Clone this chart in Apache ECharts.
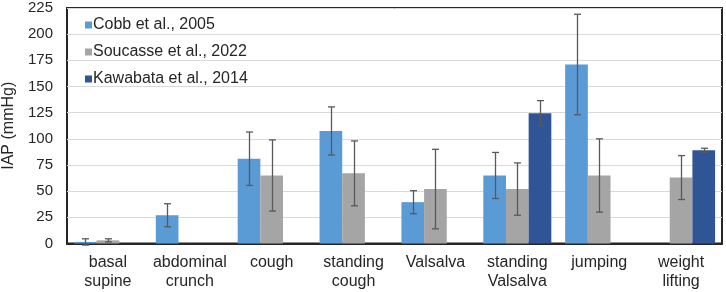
<!DOCTYPE html>
<html><head><meta charset="utf-8">
<script src="https://cdn.jsdelivr.net/npm/echarts@6/dist/echarts.min.js"></script>
<style>html,body{margin:0;padding:0;background:#fff}#c{width:726px;height:292px}</style>
</head><body><div id="c"></div>
<script>
const categories = ['basal\nsupine','abdominal\ncrunch','cough','standing\ncough','Valsalva','standing\nValsalva','jumping','weight\nlifting'];
const seriesNames = ['Cobb et al., 2005','Soucasse et al., 2022','Kawabata et al., 2014'];
const cobb = [1.5, 27, 81, 107.5, 39.5, 65, 171, null];
const cobbErr = [3, 11, 25.5, 23, 11, 22, 48, null];
const soucasse = [3, null, 65, 67, 52, 52, 65, 63];
const soucasseErr = [1.5, null, 34, 31, 38, 25, 35, 21];
const kawabata = [null, null, null, null, null, 124.5, null, 89];
const kawabataErr = [null, null, null, null, null, 12, null, 2];
const yTicks = {min: 0, max: 225, interval: 25};

const colors = ['#5B9BD5', '#A5A5A5', '#2F5597'];
const values = [cobb, soucasse, kawabata];
const errs = [cobbErr, soucasseErr, kawabataErr];
const BAR_FRAC = 0.277;
const font = 'Liberation Sans, Arial, sans-serif';

function errSeries(idx) {
  const data = [];
  values[idx].forEach((v, i) => {
    if (v != null && errs[idx][i] != null) data.push([i, v - errs[idx][i], v + errs[idx][i]]);
  });
  return {
    type: 'custom', z: 10, silent: true,
    data: data,
    encode: {x: 0, y: [1, 2]},
    renderItem: function (params, api) {
      const band = api.size([1, 0])[0];
      const bw = band * BAR_FRAC;
      const off = (idx - 1) * bw;
      const lo = api.coord([api.value(0), api.value(1)]);
      const hi = api.coord([api.value(0), api.value(2)]);
      const x = Math.round(lo[0] + off) + 0.5;
      const cap = 3.5;
      const style = {stroke: '#595959', lineWidth: 1.3, fill: null};
      return {type: 'group', children: [
        {type: 'line', shape: {x1: x, y1: lo[1], x2: x, y2: hi[1]}, style: style},
        {type: 'line', shape: {x1: x - cap, y1: lo[1], x2: x + cap, y2: lo[1]}, style: style},
        {type: 'line', shape: {x1: x - cap, y1: hi[1], x2: x + cap, y2: hi[1]}, style: style}
      ]};
    }
  };
}

const barSeries = values.map((arr, idx) => ({
  name: seriesNames[idx], type: 'bar',
  data: arr.map(v => v == null ? '-' : v),
  barWidth: (BAR_FRAC * 100) + '%', barGap: '0%',
  itemStyle: {color: colors[idx]},
  z: 2
}));

const chart = echarts.init(document.getElementById('c'), null, {renderer: 'canvas'});
chart.setOption({
  animation: false,
  textStyle: {fontFamily: font},
  color: colors,
  grid: {left: 67, right: 4, top: 8, bottom: 48.5, containLabel: false, outerBoundsMode: 'none',
         show: true, borderColor: '#262626', borderWidth: 2, backgroundColor: 'transparent'},
  legend: {
    orient: 'vertical', left: 85, top: 17, padding: 0, itemWidth: 7, itemHeight: 7, itemGap: 11,
    icon: 'rect', data: seriesNames,
    textStyle: {fontSize: 16, color: '#262626', fontFamily: font, padding: [0, 0, 0, -4]}
  },
  xAxis: {
    type: 'category', data: categories,
    axisLine: {show: true, lineStyle: {color: '#262626', width: 2}},
    axisTick: {show: false},
    axisLabel: {fontSize: 16, lineHeight: 19, color: '#262626', margin: 10, interval: 0, fontFamily: font}
  },
  yAxis: {
    type: 'value', min: yTicks.min, max: yTicks.max, interval: yTicks.interval,
    name: 'IAP (mmHg)', nameLocation: 'middle', nameGap: 44,
    nameTextStyle: {fontSize: 16, color: '#262626', fontFamily: font},
    axisLine: {show: false}, axisTick: {show: false},
    axisLabel: {fontSize: 15, color: '#262626', margin: 14, fontFamily: font},
    splitLine: {show: true, lineStyle: {color: '#D9D9D9', width: 1}}
  },
  series: barSeries.concat([errSeries(0), errSeries(1), errSeries(2)])
});
</script></body></html>
